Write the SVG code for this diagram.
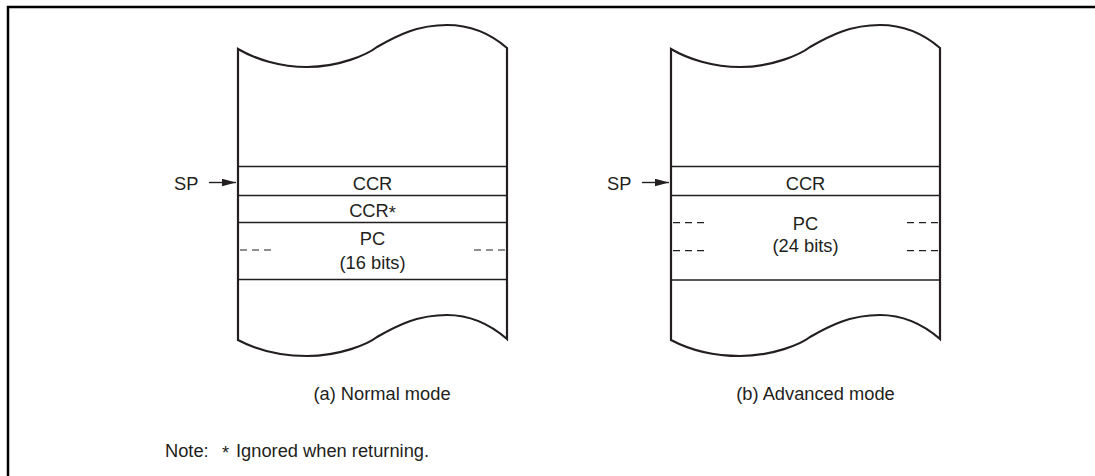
<svg xmlns="http://www.w3.org/2000/svg" width="1095" height="476" viewBox="0 0 1095 476">
<style>
.frame{fill:none;stroke:#000;stroke-width:2.5}
.col{fill:#fff;stroke:#231f20;stroke-width:2.2;stroke-linejoin:miter}
.row{stroke:#231f20;stroke-width:1.3}
.dash{stroke:#231f20;stroke-width:1.2;stroke-dasharray:7 5}
.arr{stroke:#231f20;stroke-width:1.4;fill:none}
text{font-family:"Liberation Sans",Arial,sans-serif;font-size:18.3px;fill:#231f20}
.c{text-anchor:middle}
</style>
<defs>
<marker id="ah" markerUnits="userSpaceOnUse" markerWidth="15" markerHeight="8" refX="14" refY="3.75" orient="auto">
<path d="M0,0 L14,3.75 L0,7.5 z" fill="#231f20"/>
</marker>
<path id="stack" d="M0,49 C17,59 42,67 69,67 C102,67 130,54 139,47 C160,35 180,25 209,25 C234,25 254,35 269,48 L269,339 C254,326 234,315 209,315 C180,315 160,325 139,337 C130,344 102,356 69,356 C42,356 17,349 0,340 Z"/>
</defs>
<path class="frame" d="M8,476 L8,7 L1095,7"/>
<g id="stack-a">
<use href="#stack" x="238" class="col"/>
<line class="row" x1="238" y1="166.5" x2="507" y2="166.5"/>
<line class="row" x1="238" y1="195.5" x2="507" y2="195.5"/>
<line class="row" x1="238" y1="222.5" x2="507" y2="222.5"/>
<line class="row" x1="238" y1="279.5" x2="507" y2="279.5"/>
<line class="dash" x1="240" y1="250" x2="272" y2="250"/>
<line class="dash" x1="474" y1="250" x2="506" y2="250"/>
<text class="c" x="372.5" y="189.5">CCR</text>
<text class="c" x="372.5" y="216.5">CCR<tspan dy="2">*</tspan></text>
<text class="c" x="372.5" y="245">PC</text>
<text class="c" x="372.5" y="269">(16 bits)</text>
</g>
<g id="stack-b">
<use href="#stack" x="671" class="col"/>
<line class="row" x1="671" y1="166.5" x2="940" y2="166.5"/>
<line class="row" x1="671" y1="195.5" x2="940" y2="195.5"/>
<line class="row" x1="671" y1="280" x2="940" y2="280"/>
<line class="dash" x1="673" y1="222.7" x2="705" y2="222.7"/>
<line class="dash" x1="907" y1="222.7" x2="939" y2="222.7"/>
<line class="dash" x1="673" y1="250.7" x2="705" y2="250.7"/>
<line class="dash" x1="907" y1="250.7" x2="939" y2="250.7"/>
<text class="c" x="805.5" y="189.5">CCR</text>
<text class="c" x="805.5" y="229.5">PC</text>
<text class="c" x="805.5" y="252">(24 bits)</text>
</g>
<g id="sp-a"><text x="174" y="190">SP</text></g>
<g id="sp-b"><text x="607" y="190">SP</text></g>
<g id="connectors">
<line class="arr" x1="209" y1="182.5" x2="236" y2="182.5" marker-end="url(#ah)"/>
<line class="arr" x1="642" y1="182.5" x2="669" y2="182.5" marker-end="url(#ah)"/>
</g>
<g id="captions">
<text class="c" x="382" y="399.5">(a) Normal mode</text>
<text class="c" x="815.5" y="400">(b) Advanced mode</text>
<text x="165" y="457">Note:<tspan x="222" dy="2">*</tspan><tspan x="236" dy="-2">Ignored when returning.</tspan></text>
</g>
</svg>
